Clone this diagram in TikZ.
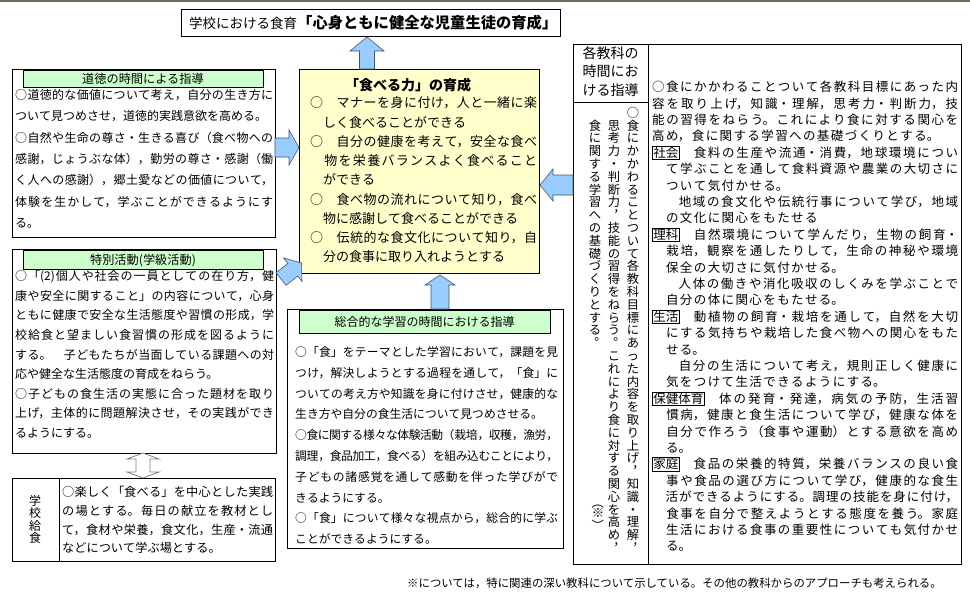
\documentclass[tikz,border=0pt]{standalone}
\usepackage{fontspec}
\usepackage{graphicx}
\setmainfont{Noto Sans CJK JP}
\XeTeXlinebreaklocale "ja"
\XeTeXlinebreakskip=0pt plus 1pt
\definecolor{hdrgreen}{HTML}{CCFFCC}
\definecolor{coreyellow}{HTML}{FFFFCC}
\definecolor{arrowblue}{HTML}{99CCFF}
\definecolor{arrowedge}{HTML}{45566B}
\definecolor{frameline}{HTML}{706A5A}
\newcommand\fs[2]{\fontsize{#1}{#2}\selectfont}
% vertical text
\newlength\vht \newlength\vdp
\setlength\vht{11pt}\setlength\vdp{1.8pt}
\def\vtend{\vtend}
\newcommand\vtext[1]{\vbox{\offinterlineskip\vtaux#1\vtend}}
\def\vtaux#1{\ifx#1\vtend\else\vtcell{#1}\expandafter\vtaux\fi}
\def\vtcell#1{\hbox to 13pt{\vrule height\vht depth\vdp width0pt\hss\vtglyph{#1}\hss}}
\def\vtpunct#1{\hbox to 1em{\kern0.45em\raise0.6em\hbox{\rlap{#1}}\hss}}
\def\vtrot#1{\rotatebox[origin=c]{-90}{#1}}
\def\vtglyph#1{\ifx#1，\vtpunct{#1}\else\ifx#1。\vtpunct{#1}\else\ifx#1（\vtrot{#1}\else\ifx#1）\vtrot{#1}\else#1\fi\fi\fi\fi}
% block arrow: [style]{tail}{angle}{length}{shaft half}{head half}{head length}
\newcommand\blockarrow[7][]{\path[#1, shift={#2}, rotate=#3] (0,-#5) -- ({#4-#7},-#5) -- ({#4-#7},-#6) -- (#4,0) -- ({#4-#7},#6) -- ({#4-#7},#5) -- (0,#5) -- cycle;}
\setlength\fboxsep{0.6pt}
\setlength\fboxrule{0.6pt}
\begin{document}
\begin{tikzpicture}[x=1pt,y=-1pt,
  obox/.style={draw=black, line width=0.8pt},
  hdr/.style={draw=black, line width=0.7pt, fill=hdrgreen},
  barrow/.style={draw=arrowedge, line width=0.6pt, fill=arrowblue},
  darrow/.style={draw=gray, line width=0.8pt, fill=white},
  para/.style={anchor=base west, inner sep=0pt, text width=#1, align=justify},
  lbl/.style={inner sep=0pt, anchor=base}]
\useasboundingbox (0,0) rectangle (970,598);
\fill[white] (0,0) rectangle (970,598);
\fill[frameline] (0,0) rectangle (970,2);

% ---------- title ----------
\draw[obox] (181,9) rectangle (560,36);
\node[lbl, anchor=base west] (title) at (189,28) {{\fs{13.5}{16}学校における食育}{\bfseries\fs{15.3}{18}「心身ともに健全な児童生徒の育成」}};

% ---------- centre box ----------
\draw[obox, fill=coreyellow] (299,69) rectangle (539,273);
\node[lbl] (coretitle) at (408,90.5) {\bfseries\fs{14}{16}「食べる力」の育成};
\node[para=227pt] (coretext) at (310,107.9) {\fs{13}{19.25}\XeTeXlinebreakskip=0pt plus 2pt minus 0.5pt%
○　マナーを身に付け，人と一緒に楽\linebreak%
　しく食べることができる\\%
○　自分の健康を考えて，安全な食べ\linebreak%
　物を栄養バランスよく食べること\linebreak%
　ができる\\%
○　食べ物の流れについて知り，食べ\linebreak%
　物に感謝して食べることができる\\%
○　伝統的な食文化について知り，自\linebreak%
　分の食事に取り入れようとする\par};

% ---------- moral education ----------
\draw[obox] (12,69) rectangle (275,237);
\draw[hdr] (23,70) rectangle (263,87);
\node[lbl] (moralhead) at (143,83.1) {\fs{12.2}{14}道徳の時間による指導};
\node[para=258pt] (moraltext) at (15,99.6) {\fs{12}{21.3}\XeTeXlinebreakskip=0pt plus 2pt minus 0.5pt%
○道徳的な価値について考え，自分の生き方に\linebreak%
ついて見つめさせ，道徳的実践意欲を高める。\\%
○自然や生命の尊さ・生きる喜び（食べ物への\linebreak%
感謝，じょうぶな体），勤労の尊さ・感謝（働\linebreak%
く人への感謝），郷土愛などの価値について，\linebreak%
体験を生かして，学ぶことができるようにす\linebreak%
る。\par};

% ---------- special activities ----------
\draw[obox] (12,249) rectangle (276,453);
\draw[hdr] (23,250) rectangle (263,269);
\node[lbl] (spechead) at (143,264.1) {\fs{12.2}{14}特別活動(学級活動)};
\node[para=259pt] (spectext) at (15,280.6) {\fs{12}{19.6}\XeTeXlinebreakskip=0pt plus 2pt minus 0.5pt%
○「(2)個人や社会の一員としての在り方，健\linebreak%
康や安全に関すること」の内容について，心身\linebreak%
ともに健康で安全な生活態度や習慣の形成，学\linebreak%
校給食と望ましい食習慣の形成を図るように\linebreak%
する。　子どもたちが当面している課題への対\linebreak%
応や健全な生活態度の育成をねらう。\\%
○子どもの食生活の実態に合った題材を取り\linebreak%
上げ，主体的に問題解決させ，その実践ができ\linebreak%
るようにする。\par};

% ---------- school lunch ----------
\draw[obox] (12,478) rectangle (275,561);
\draw[obox] (59,478) -- (59,561);
\node[anchor=north, inner sep=0pt] (lunchhead) at (35,494) {\fs{12}{12.5}\setlength\vht{10.8pt}\setlength\vdp{1.7pt}\vtext{学校給食}};
\node[para=211pt] (lunchtext) at (62,496.6) {\fs{12.2}{18.7}\XeTeXlinebreakskip=0pt plus 2pt minus 0.5pt%
○楽しく「食べる」を中心とした実践\linebreak%
の場とする。毎日の献立を教材とし\linebreak%
て，食材や栄養，食文化，生産・流通\linebreak%
などについて学ぶ場とする。\par};

% ---------- integrated study ----------
\draw[obox] (287,309) rectangle (563,548);
\draw[hdr] (299,310) rectangle (550,333);
\node[lbl] (integhead) at (424.5,326.6) {\fs{12}{14}総合的な学習の時間における指導};
\node[para=263pt] (integtext) at (295,356.5) {\fs{11.8}{20.8}\XeTeXlinebreakskip=0pt plus 2pt minus 0.6pt%
○「食」をテーマとした学習において，課題を見\linebreak%
つけ，解決しようとする過程を通して，「食」に\linebreak%
ついての考え方や知識を身に付けさせ，健康的な\linebreak%
生き方や自分の食生活について見つめさせる。\\%
○食に関する様々な体験活動（栽培，収穫，漁労，\linebreak%
調理，食品加工，食べる）を組み込むことにより，\linebreak%
子どもの諸感覚を通して感動を伴った学びがで\linebreak%
きるようにする。\\%
○「食」について様々な視点から，総合的に学ぶ\linebreak%
ことができるようにする。\par};

% ---------- subjects panel ----------
\draw[obox] (573,44) rectangle (961,564);
\draw[obox] (648,44) -- (648,564);
\draw[obox] (573,102) -- (648,102);
\node[lbl] (subjh1) at (610.5,58.3) {\fs{14}{16}各教科の};
\node[lbl] (subjh2) at (610.5,76.8) {\fs{14}{16}時間にお};
\node[lbl] (subjh3) at (610.5,95.3) {\fs{14}{16}ける指導};
\node[anchor=north, inner sep=0pt] (vcol1) at (633,106) {\fs{12.3}{12.8}\vtext{○食にかかわることついて各教科目標にあった内容を取り上げ，知識・理解，}};
\node[anchor=north, inner sep=0pt] (vcol2) at (614,118.8) {\fs{12.3}{12.8}\vtext{思考力・判断力，技能の習得をねらう。これにより食に対する関心を高め，}};
\node[anchor=north, inner sep=0pt] (vcol3) at (595,118.8) {\fs{12.3}{12.8}\vtext{食に関する学習への基礎づくりとする。}};
\node[anchor=north, inner sep=0pt] (vnote) at (598,496) {\fs{12.3}{10}\setlength\vht{7.5pt}\setlength\vdp{1.8pt}\vtext{（※）}};
\node[para=306pt] (subjtext) at (652,91.75) {\fs{12.5}{16.4}\XeTeXlinebreakskip=1.4pt plus 1.5pt minus 1.4pt%
○食にかかわることついて各教科目標にあった内\linebreak%
容を取り上げ，知識・理解，思考力・判断力，技\linebreak%
能の習得をねらう。これにより食に対する関心を\linebreak%
高め，食に関する学習への基礎づくりとする。\\%
\fbox{社会}　食料の生産や流通・消費，地球環境につい\linebreak%
　て学ぶことを通して食料資源や農業の大切さに\linebreak%
　ついて気付かせる。\\%
　　地域の食文化や伝統行事について学び，地域\linebreak%
　の文化に関心をもたせる\\%
\fbox{理科}　自然環境について学んだり，生物の飼育・\linebreak%
　栽培，観察を通したりして，生命の神秘や環境\linebreak%
　保全の大切さに気付かせる。\\%
　　人体の働きや消化吸収のしくみを学ぶことで\linebreak%
　自分の体に関心をもたせる。\\%
\fbox{生活}　動植物の飼育・栽培を通して，自然を大切\linebreak%
　にする気持ちや栽培した食べ物への関心をもた\linebreak%
　せる。\\%
　　自分の生活について考え，規則正しく健康に\linebreak%
　気をつけて生活できるようにする。\\%
\fbox{保健体育}　体の発育・発達，病気の予防，生活習\linebreak%
　慣病，健康と食生活について学び，健康な体を\linebreak%
　自分で作ろう（食事や運動）とする意欲を高め\linebreak%
　る。\\%
\fbox{家庭}　食品の栄養的特質，栄養バランスの良い食\linebreak%
　事や食品の選び方について学び，健康的な食生\linebreak%
　活ができるようにする。調理の技能を身に付け，\linebreak%
　食事を自分で整えようとする態度を養う。家庭\linebreak%
　生活における食事の重要性についても気付かせ\linebreak%
　る。\par};

% ---------- footnote ----------
\node[lbl, anchor=base west] (footnote) at (407,587.5) {\fs{11.4}{13}※については，特に関連の深い教科について示している。その他の教科からのアプローチも考えられる。};

% ---------- arrows ----------
\blockarrow[barrow]{(367,69)}{90}{32}{7.5}{17}{14}
\blockarrow[barrow]{(275,147.5)}{0}{24}{9.5}{17.5}{10}
\blockarrow[barrow]{(281,279)}{38}{26}{8}{15}{11}
\blockarrow[barrow]{(440,309)}{90}{34}{9}{15}{10}
\blockarrow[barrow]{(573,185)}{180}{33}{10}{16}{13}
\path[darrow] (143,453) -- (159,459) -- (150,459) -- (150,472) -- (159,472) -- (143,478) -- (127,472) -- (136,472) -- (136,459) -- (127,459) -- cycle;
\end{tikzpicture}
\end{document}
